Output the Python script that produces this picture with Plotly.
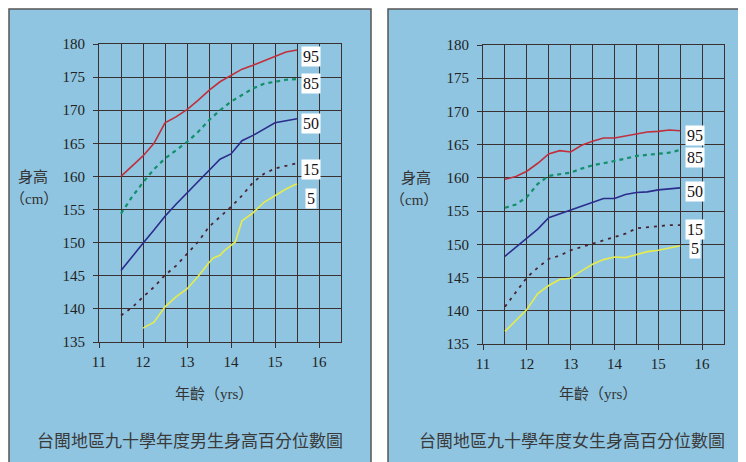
import plotly.graph_objects as go

# ---------------- data ----------------
ages = [11.5, 11.75, 12.0, 12.25, 12.5, 12.75, 13.0, 13.25, 13.5, 13.75,
        14.0, 14.25, 14.5, 14.75, 15.0, 15.25, 15.5]

boys_p95 = [160.0, 161.6, 163.1, 165.0, 168.1, 169.0, 170.1, 171.5, 173.0, 174.3,
            175.2, 176.2, 176.8, 177.5, 178.2, 178.8, 179.1]
boys_p85 = [154.4, 156.9, 159.1, 161.1, 162.7, 163.9, 165.2, 166.7, 168.5, 170.0,
            171.3, 172.3, 173.3, 174.0, 174.3, 174.6, 174.7]
boys_p50 = [145.8, 147.9, 149.9, 151.9, 154.0, 155.8, 157.5, 159.2, 161.0, 162.6,
            163.4, 165.4, 166.2, 167.2, 168.1, 168.4, 168.7]
boys_p15 = [139.0, 140.2, 141.8, 143.3, 145.1, 146.5, 148.3, 150.1, 152.4, 153.9,
            155.4, 157.1, 159.1, 160.4, 161.2, 161.6, 162.0]
boys_p5_ages = [12.0, 12.25, 12.5, 12.75, 13.0, 13.25, 13.5, 13.6, 13.75, 13.85,
                14.0, 14.1, 14.25, 14.5, 14.75, 15.0, 15.25, 15.5]
boys_p5 = [137.1, 138.0, 140.3, 141.8, 143.0, 144.9, 147.0, 147.7, 148.1, 148.8,
           149.6, 150.1, 153.3, 154.5, 156.1, 157.1, 158.1, 158.9]

girls_p95 = [159.8, 160.2, 161.0, 162.2, 163.6, 164.1, 163.9, 164.9, 165.5, 166.0,
             166.0, 166.3, 166.5, 166.9, 167.0, 167.2, 167.1]
girls_p85 = [155.5, 156.0, 157.1, 159.1, 160.3, 160.5, 160.8, 161.4, 161.9, 162.2,
             162.5, 162.9, 163.3, 163.5, 163.6, 163.8, 164.2]
girls_p50 = [148.2, 149.6, 151.0, 152.3, 154.0, 154.6, 155.1, 155.8, 156.4, 156.9,
             156.9, 157.5, 157.8, 157.9, 158.2, 158.3, 158.5]
girls_p15 = [140.6, 142.8, 145.0, 146.5, 147.8, 148.3, 149.1, 149.6, 150.1, 150.5,
             151.1, 151.6, 152.4, 152.6, 152.7, 152.9, 152.9]
girls_p5 = [136.9, 138.5, 140.2, 142.6, 143.8, 144.7, 144.9, 146.0, 147.0, 147.7,
            148.1, 148.0, 148.4, 148.9, 149.1, 149.5, 149.8]

percentile_labels = ["95", "85", "50", "15", "5"]
x_ticks = [11, 12, 13, 14, 15, 16]
y_ticks = [135, 140, 145, 150, 155, 160, 165, 170, 175, 180]

boys_title = "台閩地區九十學年度男生身高百分位數圖"
girls_title = "台閩地區九十學年度女生身高百分位數圖"
y_title_1 = "身高"
y_title_2 = "（cm）"
x_title = "年齡（yrs）"

# ---------------- styling ----------------
OFF = 8                      # page body margin in the browser
W, H = 746 - OFF, 462 - OFF  # figure size so it fills the window
SERIF = "Liberation Serif, Times New Roman, serif"
CJK = "Noto Sans CJK TC, Noto Sans CJK SC, sans-serif"
PANEL = "#8fc5e1"
PLOT_BG = "#a4cbdc"
GRID = "#3a3030"

styles = [
    dict(color="#c0303c", width=1.6, dash="solid"),
    dict(color="#12906a", width=2.2, dash="4px,4px"),
    dict(color="#2c2c8c", width=1.6, dash="solid"),
    dict(color="#4a2535", width=1.8, dash="3px,5px"),
    dict(color="#e6ec4c", width=1.6, dash="solid"),
]

fig = go.Figure()

boys = [(ages, boys_p95), (ages, boys_p85), (ages, boys_p50), (ages, boys_p15), (boys_p5_ages, boys_p5)]
girls = [(ages, girls_p95), (ages, girls_p85), (ages, girls_p50), (ages, girls_p15), (ages, girls_p5)]

for (xs, ys), st, name in zip(boys, styles, percentile_labels):
    fig.add_trace(go.Scatter(x=xs, y=ys, mode="lines", line=st, name=name,
                             xaxis="x", yaxis="y", showlegend=False))
for (xs, ys), st, name in zip(girls, styles, percentile_labels):
    fig.add_trace(go.Scatter(x=xs, y=ys, mode="lines", line=st, name=name,
                             xaxis="x2", yaxis="y2", showlegend=False))

def px_x(p):
    return (p - OFF) / W

def px_y(p):
    return 1 - (p - OFF) / H

axis_common = dict(
    showline=True, linecolor=GRID, linewidth=1.2, mirror=True,
    gridcolor=GRID, gridwidth=1.1, zeroline=False, automargin=False,
    ticks="outside", ticklen=5, tickcolor=GRID, tickwidth=1.2,
    tickfont=dict(family=SERIF, size=15, color="#222"),
)

xcommon = dict(axis_common, range=[11, 16.5], tickvals=x_ticks, showgrid=True,
               minor=dict(dtick=0.5, tick0=11, showgrid=True, gridcolor=GRID, gridwidth=1.1, ticks=""),
               ticklabelstandoff=1)
ycommon = dict(axis_common, range=[135, 180], tickvals=y_ticks, showgrid=True,
               ticklabelstandoff=5)

fig.update_layout(
    width=W, height=H, autosize=False,
    margin=dict(l=0, r=0, t=0, b=0, pad=0, autoexpand=False),
    paper_bgcolor="white",
    plot_bgcolor=PLOT_BG,
    xaxis=dict(xcommon, domain=[px_x(99), px_x(341)], anchor="y"),
    yaxis=dict(ycommon, domain=[px_y(342), px_y(44)], anchor="x"),
    xaxis2=dict(xcommon, domain=[px_x(483), px_x(724)], anchor="y2"),
    yaxis2=dict(ycommon, domain=[px_y(344), px_y(45)], anchor="x2"),
)

# panel backgrounds
fig.add_shape(type="rect", xref="paper", yref="paper", layer="below",
              x0=px_x(9), x1=px_x(371), y0=px_y(480), y1=px_y(9),
              fillcolor=PANEL, line=dict(color="#555555", width=1.5))
fig.add_shape(type="rect", xref="paper", yref="paper", layer="below",
              x0=px_x(388), x1=px_x(770), y0=px_y(480), y1=px_y(9),
              fillcolor=PANEL, line=dict(color="#555555", width=1.5))

# percentile labels (white boxes)
boys_label_pos = [178.1, 174.0, 168.0, 161.1, 156.7]
girls_label_pos = [166.45, 163.0, 158.0, 152.2, 149.3]
for lab, yv in zip(percentile_labels, boys_label_pos):
    fig.add_annotation(x=15.82, y=yv, xref="x", yref="y", text=lab, showarrow=False,
                       font=dict(family=SERIF, size=16, color="#111"),
                       bgcolor="white", borderpad=1)
for lab, yv in zip(percentile_labels, girls_label_pos):
    fig.add_annotation(x=15.83, y=yv, xref="x2", yref="y2", text=lab, showarrow=False,
                       font=dict(family=SERIF, size=16, color="#111"),
                       bgcolor="white", borderpad=1)

def paper_text(x, y, text, font):
    fig.add_annotation(x=px_x(x), y=px_y(y), xref="paper", yref="paper",
                       text=text, showarrow=False, font=font,
                       xanchor="center", yanchor="middle")

cjk_axis_font = dict(family=CJK, size=15, color="#333")
cm_font = dict(family=SERIF + ", " + CJK, size=15, color="#333")
cap_font = dict(family=CJK, size=17, color="#3a3a3a")
xt_font = dict(family=SERIF + ", " + CJK, size=15, color="#333")

# left panel texts
paper_text(33, 175, y_title_1, cjk_axis_font)
paper_text(34, 199, y_title_2, cm_font)
paper_text(214, 394, x_title, xt_font)
paper_text(190, 439, boys_title, cap_font)

# right panel texts
paper_text(416, 176, y_title_1, cjk_axis_font)
paper_text(414, 200, y_title_2, cm_font)
paper_text(598, 394, x_title, xt_font)
paper_text(572, 439, girls_title, cap_font)

fig.write_html("out.html")
